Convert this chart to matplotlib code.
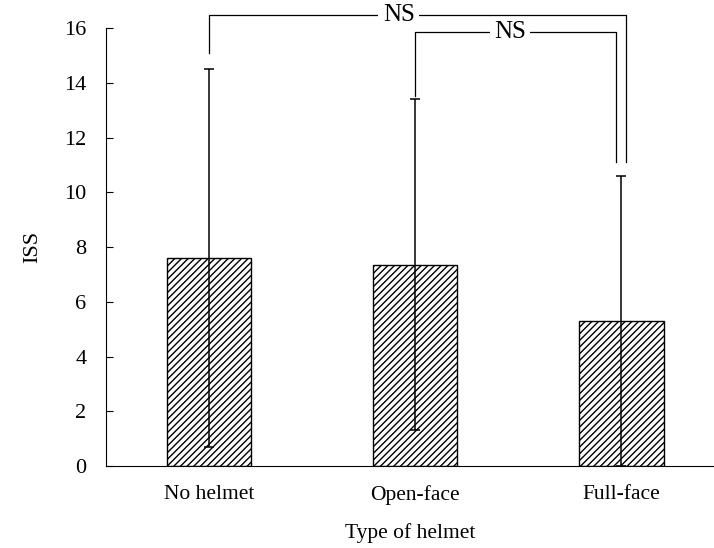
import matplotlib.pyplot as plt
import matplotlib as mpl

# 数据
categories = ['No helmet', 'Open-face', 'Full-face']
iss_mean = [7.6, 7.35, 5.3]
iss_sd = [6.9, 6.05, 5.3]
y_ticks = [0, 2, 4, 6, 8, 10, 12, 14, 16]

plt.rcParams['font.family'] = ['Liberation Serif', 'DejaVu Serif']
mpl.rcParams['hatch.linewidth'] = 1.0

fig = plt.figure(figsize=(7.14, 5.48), dpi=100)
ax = fig.add_axes([0.1485, 0.1496, 0.8515, 0.7993])

x = list(range(len(categories)))
ax.bar(x, iss_mean, width=0.41, color='white', edgecolor='black',
       hatch='/////', linewidth=1.0, zorder=2)
ax.errorbar(x, iss_mean, yerr=iss_sd, fmt='none', ecolor='black',
            elinewidth=1.1, capsize=3.5, capthick=1.1, zorder=3)

ax.set_xlim(-0.5, 2.45)
ax.set_ylim(0, 16)
ax.set_yticks(y_ticks)
ax.set_xticks(x)
ax.set_xticklabels(categories, fontsize=15.5)
ax.tick_params(axis='y', direction='in', length=5, labelsize=16, pad=14)
ax.tick_params(axis='x', length=0, pad=14)
ax.spines['top'].set_visible(False)
ax.spines['right'].set_visible(False)
ax.set_ylabel('ISS', fontsize=16, labelpad=16)
ax.set_xlabel('Type of helmet', fontsize=15.5, labelpad=13)

# 显著性标注
lw = 0.9
ax.plot([0, 0, 2.025, 2.025], [15.1, 16.46, 16.46, 11.1], color='black',
        lw=lw, clip_on=False)
ax.text(0.92, 16.46, 'NS', ha='center', va='center', fontsize=18,
        bbox=dict(facecolor='white', edgecolor='none', pad=3), clip_on=False)
ax.plot([1.0, 1.0, 1.976, 1.976], [13.5, 15.84, 15.84, 11.1], color='black',
        lw=lw, clip_on=False)
ax.text(1.46, 15.84, 'NS', ha='center', va='center', fontsize=18,
        bbox=dict(facecolor='white', edgecolor='none', pad=3), clip_on=False)

plt.savefig('out.png', dpi=100)
